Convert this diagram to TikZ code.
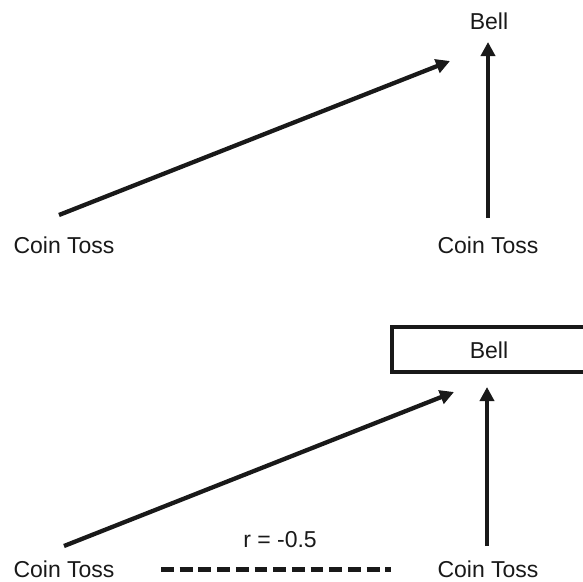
\documentclass[tikz,border=0pt]{standalone}
\usepackage{fontspec}
\setmainfont{Liberation Sans}
\usetikzlibrary{arrows.meta}
\begin{document}
\begin{tikzpicture}[x=1pt,y=-1pt,
  lbl/.style={inner sep=0pt, font=\fontsize{23}{27}\selectfont, text=black!90},
  conn/.style={line width=4.3pt, black!90, -{Triangle[length=14pt,width=14pt]}},
  corr/.style={line width=5pt, black!90, dash pattern=on 12.8pt off 5.9pt},
  bellbox/.style={draw=black!90, line width=4.2pt, fill=white}]
\clip (0,0) rectangle (583,581);
\fill[white] (0,0) rectangle (583,581);
% top diagram
\node[lbl] (bellA) at (489,21) {Bell};
\node[lbl] (ctA1) at (64,245) {Coin Toss};
\node[lbl] (ctA2) at (488,245) {Coin Toss};
\coordinate (sA1) at (59,215);
\coordinate (eA1) at (450,61);
\coordinate (sA2) at (488,218);
\coordinate (eA2) at (488,42);
\draw[conn] (sA1) -- (eA1);
\draw[conn] (sA2) -- (eA2);
% bottom diagram
\draw[bellbox] (392,327) rectangle (620,372);
\node[lbl] (bellB) at (489,350) {Bell};
\node[lbl] (ctB1) at (64,569) {Coin Toss};
\node[lbl] (ctB2) at (488,569) {Coin Toss};
\node[lbl] (r) at (280,540) {r = -0.5};
\coordinate (sB1) at (64,546);
\coordinate (eB1) at (454,392);
\coordinate (sB2) at (487,546);
\coordinate (eB2) at (487,387);
\draw[conn] (sB1) -- (eB1);
\draw[conn] (sB2) -- (eB2);
\coordinate (dL) at (161,569);
\coordinate (dR) at (391,569);
\draw[corr] (dL) -- (dR);
\end{tikzpicture}
\end{document}
